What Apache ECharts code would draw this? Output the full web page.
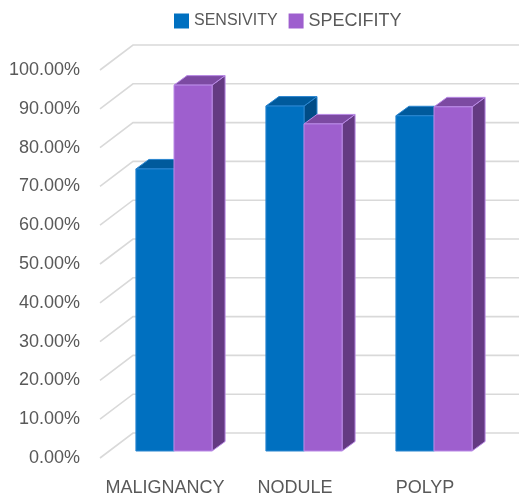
<!DOCTYPE html>
<html>
<head>
<meta charset="utf-8">
<script src="https://cdn.jsdelivr.net/npm/echarts@6/dist/echarts.min.js"></script>
<style>
  html, body { margin: 0; padding: 0; background: #fff; }
  #chart { width: 519px; height: 497px; }
</style>
</head>
<body>
<div id="chart"></div>
<script>
  var categories = ['MALIGNANCY', 'NODULE', 'POLYP'];
  var sensivity = [72.7, 88.9, 86.4];
  var specifity = [94.3, 84.3, 88.7];
  var yTicks = [0, 10, 20, 30, 40, 50, 60, 70, 80, 90, 100];

  // depth of the floor / back wall and of the bars (pixels)
  var WALL_DX = 33, WALL_DY = -25;
  var BAR_DX = 9, BAR_DY = -7;
  var DEPTH_DX = 13, DEPTH_DY = -9.5;

  var colors = {
    blue: { front: '#0070C0', top: '#005A9C', side: '#004C86', edge: '#2A86D0' },
    purple: { front: '#9E5FCE', top: '#7C4AA2', side: '#643A82', edge: '#B98AE6' }
  };

  function poly(points, fill, edge) {
    return {
      type: 'polygon',
      shape: { points: points },
      style: { fill: fill, stroke: edge, lineWidth: 1 }
    };
  }

  function barRenderer(which, c) {
    return function (params, api) {
      var top = api.coord([api.value(0), api.value(1)]);
      var bottom = api.coord([api.value(0), 0]);
      var bw = api.size([1, 0])[0] * 0.293;
      var x0 = (which === 0 ? top[0] - bw : top[0]) + BAR_DX;
      var x1 = x0 + bw;
      var yt = top[1] + BAR_DY;
      var yb = bottom[1] + BAR_DY;
      return {
        type: 'group',
        children: [
          poly([[x1, yb], [x1 + DEPTH_DX, yb + DEPTH_DY], [x1 + DEPTH_DX, yt + DEPTH_DY], [x1, yt]], c.side, c.edge),
          poly([[x0, yt], [x1, yt], [x1 + DEPTH_DX, yt + DEPTH_DY], [x0 + DEPTH_DX, yt + DEPTH_DY]], c.top, c.edge),
          poly([[x0, yb], [x1, yb], [x1, yt], [x0, yt]], c.front, c.edge)
        ]
      };
    };
  }

  function gridRenderer(params, api) {
    var cs = params.coordSys;
    var y = api.coord([0, api.value(1)])[1];
    return {
      type: 'polyline',
      shape: { points: [[cs.x, y], [cs.x + WALL_DX, y + WALL_DY], [cs.x + cs.width + WALL_DX + 10, y + WALL_DY]] },
      style: { stroke: '#D9D9D9', lineWidth: 1.6, fill: null }
    };
  }

  var chart = echarts.init(document.getElementById('chart'));
  var option = {
    animation: false,
    textStyle: { fontFamily: 'Liberation Sans' },
    legend: {
      left: 169,
      top: 7,
      itemWidth: 15,
      itemHeight: 15,
      itemGap: 11,
      icon: 'rect',
      data: [
        { name: 'SENSIVITY', textStyle: { fontSize: 16 } },
        { name: 'SPECIFITY', textStyle: { fontSize: 18 } }
      ],
      textStyle: { color: '#595959' }
    },
    grid: {
      left: 100,
      right: 29,
      top: 70,
      bottom: 38.5
    },
    xAxis: {
      type: 'category',
      data: categories,
      axisLine: { show: false },
      axisTick: { show: false },
      axisLabel: { color: '#595959', fontSize: 18, margin: 21, interval: 0 }
    },
    yAxis: {
      type: 'value',
      min: 0,
      max: 100,
      interval: 10,
      axisLine: { show: false },
      axisTick: { show: false },
      splitLine: { show: false },
      axisLabel: {
        color: '#595959',
        fontSize: 18,
        margin: 20,
        padding: [6, 0, 0, 0],
        formatter: function (v) { return v.toFixed(2) + '%'; }
      }
    },
    series: [
      {
        name: 'wall',
        type: 'custom',
        renderItem: gridRenderer,
        data: yTicks.map(function (t) { return [0, t]; }),
        encode: { x: 0, y: 1 },
        silent: true,
        z: 1
      },
      {
        name: 'SENSIVITY',
        type: 'custom',
        renderItem: barRenderer(0, colors.blue),
        itemStyle: { color: colors.blue.front },
        data: sensivity.map(function (v, i) { return [i, v]; }),
        encode: { x: 0, y: 1 },
        z: 2
      },
      {
        name: 'SPECIFITY',
        type: 'custom',
        renderItem: barRenderer(1, colors.purple),
        itemStyle: { color: colors.purple.front },
        data: specifity.map(function (v, i) { return [i, v]; }),
        encode: { x: 0, y: 1 },
        z: 3
      }
    ]
  };
  chart.setOption(option);
</script>
</body>
</html>
